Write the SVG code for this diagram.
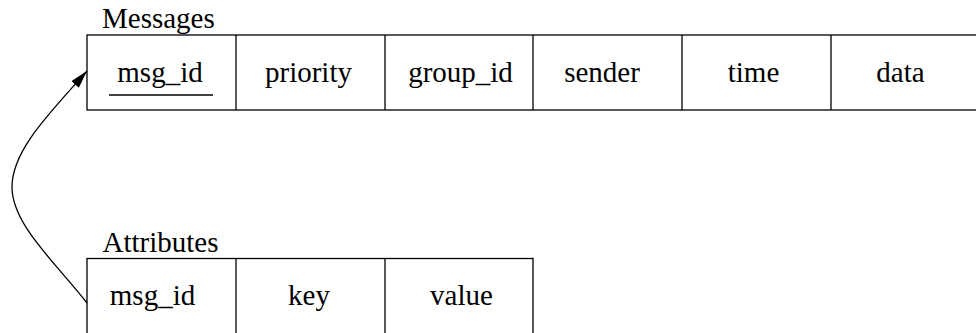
<svg xmlns="http://www.w3.org/2000/svg" width="976" height="333" viewBox="0 0 976 333">
  <style>
    .cell { fill: #ffffff; stroke: #000000; stroke-width: 1.3; }
    .rule { stroke: #000000; stroke-width: 1.3; fill: none; }
    text { font-family: "Liberation Serif", "Times New Roman", serif; font-size: 29px; fill: #000000; }
    .col { text-anchor: middle; }
    .edge { stroke: #000000; stroke-width: 1.3; fill: none; }
  </style>
  <defs>
    <marker id="arrow" markerUnits="userSpaceOnUse" markerWidth="20" markerHeight="12" refX="18" refY="5" orient="auto">
      <path d="M0,0 L18,5 L0,10 Z" fill="#000000"/>
    </marker>
  </defs>
  <rect width="976" height="333" fill="#ffffff"/>

  <!-- Messages table -->
  <g id="messages">
    <text x="102" y="28">Messages</text>
    <rect class="cell" x="87" y="35" width="900" height="75"/>
    <line class="rule" x1="236" y1="35" x2="236" y2="110"/>
    <line class="rule" x1="385" y1="35" x2="385" y2="110"/>
    <line class="rule" x1="533" y1="35" x2="533" y2="110"/>
    <line class="rule" x1="682" y1="35" x2="682" y2="110"/>
    <line class="rule" x1="831" y1="35" x2="831" y2="110"/>
    <text class="col" x="160" y="81.5">msg_id</text>
    <line class="rule" x1="109" y1="95" x2="213" y2="95"/>
    <text class="col" x="308.5" y="81.5">priority</text>
    <text class="col" x="460.5" y="81.5">group_id</text>
    <text class="col" x="602" y="81.5">sender</text>
    <text class="col" x="753.5" y="81.5">time</text>
    <text class="col" x="900.5" y="81.5">data</text>
  </g>

  <!-- Attributes table -->
  <g id="attributes">
    <text x="102.5" y="251.5">Attributes</text>
    <rect class="cell" x="87" y="258.5" width="446" height="90"/>
    <line class="rule" x1="236" y1="258.5" x2="236" y2="348"/>
    <line class="rule" x1="385" y1="258.5" x2="385" y2="348"/>
    <text class="col" x="152.5" y="305">msg_id</text>
    <text class="col" x="309" y="305">key</text>
    <text class="col" x="461.5" y="305">value</text>
  </g>

  <!-- Foreign key reference: Attributes.msg_id -> Messages.msg_id -->
  <g id="connectors">
    <path class="edge" d="M87,303 C57,264 12,225 12,187 C12,150 50,113 87,71" marker-end="url(#arrow)"/>
  </g>
</svg>
